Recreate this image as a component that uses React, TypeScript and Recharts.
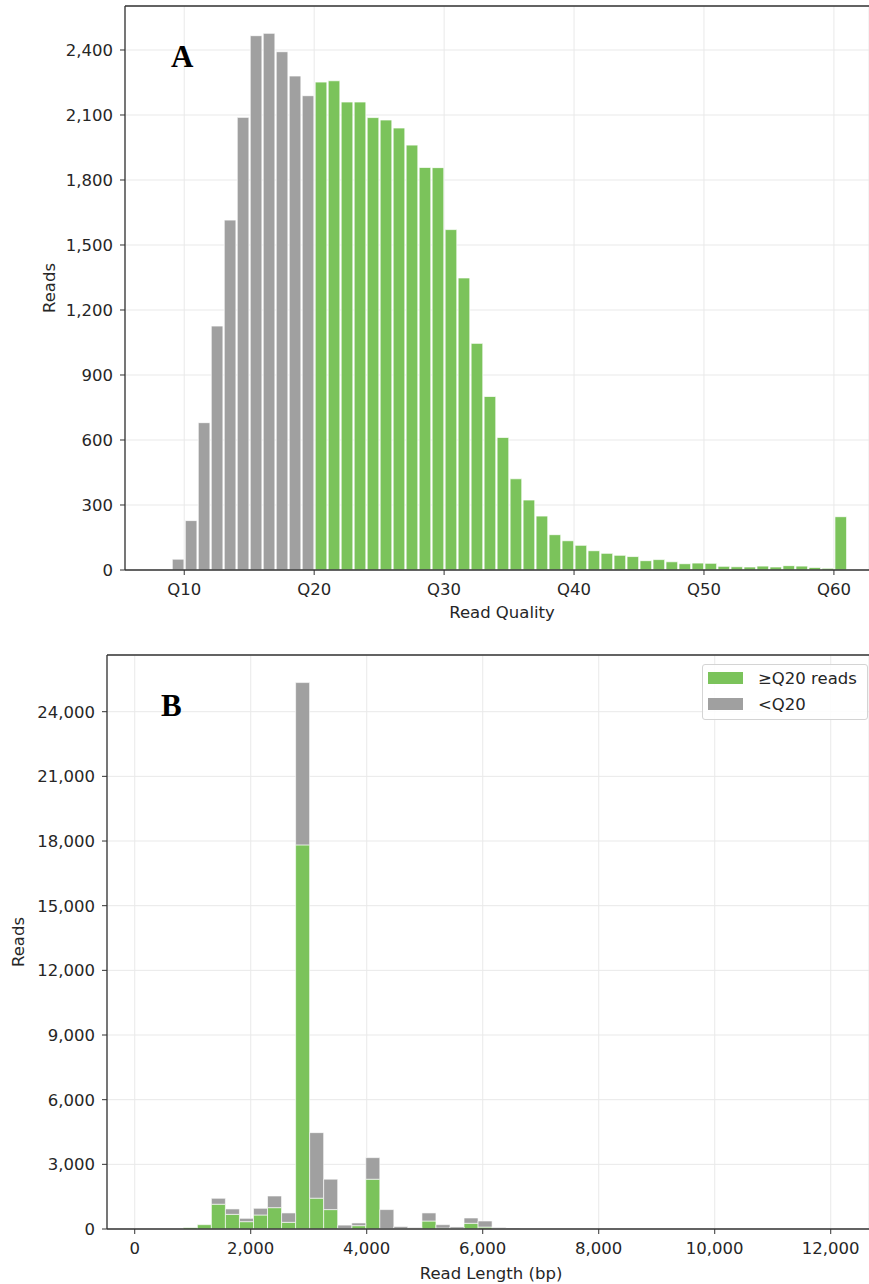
import {
  BarChart,
  Bar,
  XAxis,
  YAxis,
  CartesianGrid,
  Cell,
  Legend,
  ReferenceLine,
  Customized,
} from 'recharts';

const GREEN = '#7bc35b';
const GREY = '#a0a0a0';
const AXIS = '#333333';
const GRID = '#e9e9e9';
const TEXT = '#262626';
const FONT = 'DejaVu Sans, Verdana, sans-serif';

// Read quality histogram: one bin per Q score, value = reads in [Q, Q+1)
const qualityBins = [
  9, 10, 11, 12, 13, 14, 15, 16, 17, 18, 19, 20, 21, 22, 23, 24, 25, 26, 27, 28, 29, 30, 31, 32, 33, 34,
  35, 36, 37, 38, 39, 40, 41, 42, 43, 44, 45, 46, 47, 48, 49, 50, 51, 52, 53, 54, 55, 56, 57, 58, 59, 60,
];
const qualityReads = [
  50, 228, 680, 1126, 1615, 2089, 2466, 2477, 2392, 2280, 2189, 2252, 2258, 2160, 2160, 2088, 2077, 2040,
  1961, 1858, 1857, 1571, 1348, 1046, 801, 612, 421, 323, 249, 163, 135, 114, 89, 77, 68, 62, 43, 48, 38,
  29, 32, 31, 17, 15, 14, 18, 14, 20, 18, 12, 8, 246,
];
const qualityTicks = [10, 20, 30, 40, 50, 60];
const qualityReadTicks = [0, 300, 600, 900, 1200, 1500, 1800, 2100, 2400];
const Q_CUTOFF = 20;

// Read length histogram (bin centres in bp), split by pass / fail
const lengthBins = [
  959, 1201, 1443, 1685, 1927, 2169, 2411, 2653, 2895, 3137, 3379, 3621, 3863, 4105, 4347, 4589, 4831,
  5073, 5315, 5557, 5799, 6041, 6283, 6525,
];
const passReads = [
  60, 200, 1150, 680, 340, 650, 990, 310, 17820, 1430, 900, 20, 155, 2310, 20, 20, 20, 370, 40, 20, 265,
  90, 20, 10,
];
const failReads = [
  0, 0, 275, 250, 155, 310, 540, 435, 7530, 3040, 1410, 160, 125, 1000, 880, 90, 45, 375, 160, 75, 245,
  280, 50, 40,
];
const lengthSeries = ['pass', 'fail'];
const lengthTicks = [0, 2000, 4000, 6000, 8000, 10000, 12000];
const lengthReadTicks = [0, 3000, 6000, 9000, 12000, 15000, 18000, 21000, 24000];

const A_X_DOMAIN: [number, number] = [5.44, 62.7];
const A_Y_MAX = 2603;
const B_X_DOMAIN: [number, number] = [-478, 12660];
const B_Y_MAX = 26630;

const qualityData = qualityBins.map((q, i) => ({ q: q + 0.5, reads: qualityReads[i] }));
const lengthData = lengthBins.map((len, i) => ({ len, pass: passReads[i], fail: failReads[i] }));

const fmt = (v: number) => v.toLocaleString('en-US');
const tickStyle = { fill: TEXT, fontSize: 16.5, fontFamily: FONT };

const PanelTag = ({ text, x, y }: { text: string; x: number; y: number }) => (
  <text x={x} y={y} fontFamily="Liberation Serif, Times New Roman, serif" fontWeight="bold" fontSize={31} fill="#000">
    {text}
  </text>
);

// keep legend rows in series order (pass first)
const LegendBox = ({ payload }: any) => {
  const rows = [...(payload || [])].sort(
    (a: any, b: any) => lengthSeries.indexOf(a.dataKey) - lengthSeries.indexOf(b.dataKey)
  );
  return (
    <div
      style={{
        border: '1px solid #d4d4d4',
        borderRadius: 3,
        background: 'rgba(255,255,255,0.85)',
        padding: '0 0 2px 5px',
        fontFamily: FONT,
        fontSize: 16.5,
        color: TEXT,
      }}
    >
      {rows.map((p: any) => (
        <div key={p.value} style={{ display: 'flex', alignItems: 'center', height: 26 }}>
          <span style={{ width: 35, height: 12, background: p.color, marginRight: 15, display: 'inline-block' }} />
          {p.value}
        </div>
      ))}
    </div>
  );
};

function QualityChart() {
  return (
    <BarChart width={869} height={630} data={qualityData} margin={{ top: 6, right: 0, bottom: 0, left: 0 }}>
      <CartesianGrid stroke={GRID} />
      <XAxis
        dataKey="q"
        type="number"
        domain={A_X_DOMAIN}
        allowDataOverflow
        ticks={qualityTicks}
        tickFormatter={(q) => `Q${q}`}
        height={60}
        tick={tickStyle}
        tickSize={5}
        tickMargin={8}
        axisLine={{ stroke: AXIS, strokeWidth: 1.3 }}
        tickLine={{ stroke: AXIS }}
        label={{ value: 'Read Quality', position: 'insideBottom', offset: 12, dx: 5, fill: TEXT, fontSize: 16.5, fontFamily: FONT }}
      />
      <YAxis
        type="number"
        domain={[0, A_Y_MAX]}
        allowDataOverflow
        ticks={qualityReadTicks}
        tickFormatter={fmt}
        width={125}
        tick={tickStyle}
        tickSize={5}
        tickMargin={7}
        axisLine={{ stroke: AXIS, strokeWidth: 1.3 }}
        tickLine={{ stroke: AXIS }}
        label={{ value: 'Reads', angle: -90, position: 'center', dx: -13, fill: TEXT, fontSize: 16.5, fontFamily: FONT }}
      />
      <ReferenceLine y={A_Y_MAX} stroke={AXIS} strokeWidth={1.3} />
      <Bar dataKey="reads" barSize={13} stroke="#ffffff" strokeOpacity={0.75} strokeWidth={1} isAnimationActive={false}>
        {qualityBins.map((q) => (
          <Cell key={q} fill={q < Q_CUTOFF ? GREY : GREEN} />
        ))}
      </Bar>
      <Customized component={<PanelTag text="A" x={171} y={67} />} />
    </BarChart>
  );
}

function LengthChart() {
  return (
    <BarChart width={869} height={654} data={lengthData} margin={{ top: 25, right: 0, bottom: 0, left: 0 }}>
      <CartesianGrid stroke={GRID} />
      <XAxis
        dataKey="len"
        type="number"
        domain={B_X_DOMAIN}
        allowDataOverflow
        ticks={lengthTicks}
        tickFormatter={fmt}
        height={55}
        tick={tickStyle}
        tickSize={5}
        tickMargin={8}
        axisLine={{ stroke: AXIS, strokeWidth: 1.3 }}
        tickLine={{ stroke: AXIS }}
        label={{ value: 'Read Length (bp)', position: 'insideBottom', offset: 5, dx: 3, fill: TEXT, fontSize: 16.5, fontFamily: FONT }}
      />
      <YAxis
        type="number"
        domain={[0, B_Y_MAX]}
        allowDataOverflow
        ticks={lengthReadTicks}
        tickFormatter={fmt}
        width={107}
        tick={tickStyle}
        tickSize={5}
        tickMargin={7}
        axisLine={{ stroke: AXIS, strokeWidth: 1.3 }}
        tickLine={{ stroke: AXIS }}
        label={{ value: 'Reads', angle: -90, position: 'center', dx: -35, fill: TEXT, fontSize: 16.5, fontFamily: FONT }}
      />
      <ReferenceLine y={B_Y_MAX} stroke={AXIS} strokeWidth={1.3} />
      <Legend
        layout="vertical"
        align="center"
        verticalAlign="middle"
        content={<LegendBox />}
        wrapperStyle={{ top: 34, left: 702, width: 166, height: 56 }}
      />
      <Bar dataKey="pass" name="≥Q20 reads" stackId="reads" fill={GREEN} barSize={14} stroke="#ffffff" strokeOpacity={0.6} strokeWidth={1} isAnimationActive={false} />
      <Bar dataKey="fail" name="<Q20" stackId="reads" fill={GREY} barSize={14} stroke="#ffffff" strokeOpacity={0.6} strokeWidth={1} isAnimationActive={false} />
      <Customized component={<PanelTag text="B" x={161} y={86} />} />
    </BarChart>
  );
}

export default function App() {
  return (
    <div style={{ position: 'absolute', left: 0, top: 0, width: 869, height: 1284, background: '#fff' }}>
      <QualityChart />
      <LengthChart />
    </div>
  );
}
